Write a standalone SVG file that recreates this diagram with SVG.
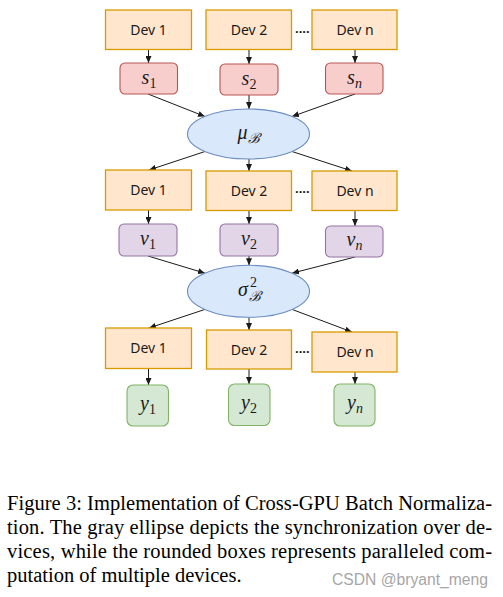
<svg xmlns="http://www.w3.org/2000/svg" width="503" height="597" viewBox="0 0 503 597">
<style>
.dev{fill:#ffe6cc;stroke:#d79b00;stroke-width:1.3}
.s{fill:#f8cecc;stroke:#b85450;stroke-width:1.1}
.v{fill:#e1d5e7;stroke:#9673a6;stroke-width:1.1}
.y{fill:#d5e8d4;stroke:#82b366;stroke-width:1.1}
.ell{fill:#dae8fc;stroke:#6c8ebf;stroke-width:1.1}
.dt{font-family:"Noto Sans","Open Sans",sans-serif;font-size:14px;fill:#1a1a1a;text-anchor:middle}
.m{font-family:"Liberation Serif","DejaVu Serif",serif;font-size:20px;font-style:italic;fill:#1a1a1a}
.c{text-anchor:middle}
.sub{font-size:14px;font-style:normal}
.subi{font-size:14px;font-style:italic}
.dots{font-family:"Noto Sans",sans-serif;font-size:13px;fill:#1a1a1a;font-weight:bold}
.cap{font-family:"Liberation Serif","Times New Roman",serif;font-size:20.5px;fill:#000}
.wm{font-family:"Liberation Sans","DejaVu Sans",sans-serif;font-size:16px;fill:#a6a6a6}
#conn line{stroke:#1a1a1a;stroke-width:1;marker-end:url(#ah)}
</style>
<defs>
<marker id="ah" markerWidth="7" markerHeight="6" refX="7" refY="3" orient="auto" markerUnits="userSpaceOnUse">
<path d="M0,0 L7,3 L0,6 Z" fill="#1a1a1a"/>
</marker>
</defs>
<rect width="503" height="597" fill="#fff"/>

<g id="conn">
<line x1="148.5" y1="50" x2="148.5" y2="63"/>
<line x1="249" y1="50" x2="249" y2="64"/>
<line x1="355" y1="50" x2="355" y2="63"/>
<line x1="148" y1="94" x2="205" y2="116.5"/>
<line x1="249" y1="95" x2="249" y2="109"/>
<line x1="355" y1="94" x2="292" y2="116.5"/>
<line x1="205" y1="151.5" x2="149" y2="170"/>
<line x1="249" y1="159" x2="249" y2="171"/>
<line x1="292" y1="151.5" x2="352" y2="171"/>
<line x1="148.5" y1="210" x2="148.5" y2="224"/>
<line x1="249" y1="210.5" x2="249" y2="224"/>
<line x1="355" y1="210.5" x2="355" y2="226"/>
<line x1="148" y1="256" x2="205" y2="273.2"/>
<line x1="249" y1="256" x2="249" y2="265.3"/>
<line x1="355" y1="257" x2="292" y2="273.2"/>
<line x1="205" y1="309.4" x2="149" y2="328"/>
<line x1="249" y1="317.3" x2="249" y2="330"/>
<line x1="292" y1="309.4" x2="352" y2="332"/>
<line x1="148.5" y1="368.5" x2="148.5" y2="385"/>
<line x1="249" y1="369" x2="249" y2="384"/>
<line x1="355" y1="372" x2="355" y2="384"/>
</g>

<g id="dev1a"><rect class="dev" x="105.5" y="10" width="86" height="39.5"/><text class="dt" x="148.5" y="35">Dev 1</text></g>
<g id="dev2a"><rect class="dev" x="206" y="10" width="85.5" height="39.5"/><text class="dt" x="249" y="35">Dev 2</text></g>
<g id="devna"><rect class="dev" x="312" y="10" width="85" height="39.5"/><text class="dt" x="355" y="35">Dev n</text></g>
<text class="dots" x="295" y="33">....</text>

<g id="s1"><rect class="s" x="120" y="63" width="57.5" height="31" rx="5"/><text class="m c" x="149" y="84">s<tspan class="sub" dy="4">1</tspan></text></g>
<g id="s2"><rect class="s" x="220" y="64" width="58" height="31" rx="5"/><text class="m c" x="249" y="85">s<tspan class="sub" dy="4">2</tspan></text></g>
<g id="sn"><rect class="s" x="325.5" y="63" width="57.5" height="31" rx="5"/><text class="m c" x="354.5" y="84">s<tspan class="subi" dy="4">n</tspan></text></g>

<g id="mu"><ellipse class="ell" cx="248.5" cy="134" rx="61" ry="25"/><text class="m c" x="248.5" y="139">μ<tspan class="subi" dy="4" font-family="DejaVu Serif,serif">ℬ</tspan></text></g>

<g id="dev1b"><rect class="dev" x="105.5" y="170" width="86" height="40"/><text class="dt" x="148.5" y="195">Dev 1</text></g>
<g id="dev2b"><rect class="dev" x="206" y="171" width="85.5" height="39.5"/><text class="dt" x="249" y="196">Dev 2</text></g>
<g id="devnb"><rect class="dev" x="312" y="171" width="85" height="39.5"/><text class="dt" x="355" y="196">Dev n</text></g>
<text class="dots" x="295" y="193">....</text>

<g id="v1"><rect class="v" x="119" y="224" width="58" height="32" rx="5"/><text class="m c" x="148" y="245">v<tspan class="sub" dy="4">1</tspan></text></g>
<g id="v2"><rect class="v" x="220" y="224" width="58" height="32" rx="5"/><text class="m c" x="249" y="245">v<tspan class="sub" dy="4">2</tspan></text></g>
<g id="vn"><rect class="v" x="325.5" y="226" width="57.5" height="31" rx="5"/><text class="m c" x="354.5" y="246">v<tspan class="subi" dy="4">n</tspan></text></g>

<g id="sigma"><ellipse class="ell" cx="248.5" cy="291.3" rx="61" ry="26"/><text class="m" x="238" y="296">σ</text><text class="m sub" x="250" y="287">2</text><text class="m subi" x="249" y="301" font-family="DejaVu Serif,serif">ℬ</text></g>

<g id="dev1c"><rect class="dev" x="105.5" y="328" width="86" height="40.5"/><text class="dt" x="148.5" y="353">Dev 1</text></g>
<g id="dev2c"><rect class="dev" x="206.5" y="330" width="85" height="39"/><text class="dt" x="249" y="355">Dev 2</text></g>
<g id="devnc"><rect class="dev" x="312" y="332" width="85" height="40"/><text class="dt" x="355" y="357">Dev n</text></g>
<text class="dots" x="295" y="353">....</text>

<g id="y1"><rect class="y" x="127" y="385" width="41.5" height="41" rx="6"/><text class="m c" x="148" y="410">y<tspan class="sub" dy="4">1</tspan></text></g>
<g id="y2"><rect class="y" x="228.5" y="384" width="41.5" height="41.5" rx="6"/><text class="m c" x="249" y="409">y<tspan class="sub" dy="4">2</tspan></text></g>
<g id="yn"><rect class="y" x="334" y="384" width="41" height="42" rx="6"/><text class="m c" x="355" y="409">y<tspan class="subi" dy="4">n</tspan></text></g>

<text class="cap" x="7" y="510" textLength="485" lengthAdjust="spacing">Figure 3: Implementation of Cross-GPU Batch Normaliza-</text>
<text class="cap" x="7" y="534" textLength="485" lengthAdjust="spacing">tion. The gray ellipse depicts the synchronization over de-</text>
<text class="cap" x="7" y="558" textLength="485" lengthAdjust="spacing">vices, while the rounded boxes represents paralleled com-</text>
<text class="cap" x="7" y="582">putation of multiple devices.</text>
<text class="wm" x="332" y="585" textLength="156" lengthAdjust="spacingAndGlyphs">CSDN @bryant_meng</text>
</svg>
